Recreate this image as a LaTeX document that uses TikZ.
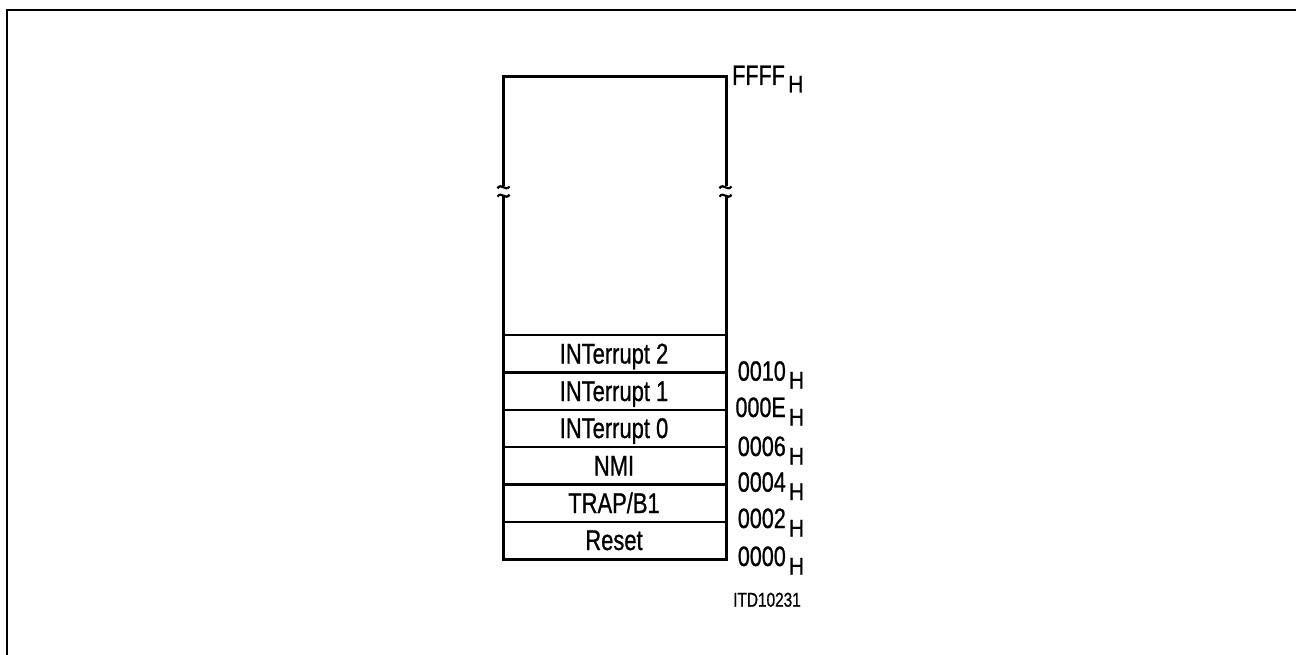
\documentclass[tikz,border=0pt]{standalone}
\usepackage{fontspec}
\setmainfont[FakeStretch=0.77,FakeBold=0.8]{Liberation Sans}
\newfontfamily\subfont[FakeStretch=0.88,FakeBold=0.7]{Liberation Sans}
\begin{document}
\begin{tikzpicture}[x=1pt,y=-1pt,
  frameline/.style={line width=2pt},
  boxline/.style={line width=3pt, line join=miter},
  divline/.style={line width=2.8pt},
  tildeline/.style={line width=2.2pt},
  rowtext/.style={font=\fontsize{28.5}{28.5}\selectfont, anchor=base, inner sep=0pt},
  addr/.style={font=\fontsize{28}{28}\selectfont, anchor=base east, inner sep=0pt},
  hsub/.style={font=\subfont\fontsize{24}{24}\selectfont, anchor=base west, inner sep=0pt},
  itd/.style={font=\fontsize{20}{20}\selectfont, anchor=base, inner sep=0pt}]
\useasboundingbox (0,0) rectangle (1296,655);
% frame
\draw[frameline] (7,655) -- (7,10.3) -- (1296,10.3);
% outer box
\coordinate (tl) at (503.5,77);
\coordinate (tr) at (726,77);
\coordinate (bl) at (503.5,559);
\coordinate (br) at (726,559);
\coordinate (lbu) at (503.5,186.5);
\coordinate (rbu) at (726,186.5);
\coordinate (lbl) at (503.5,195.5);
\coordinate (rbl) at (726,195.5);
\draw[boxline] (lbu) -- (tl) -- (tr) -- (rbu);
\draw[boxline] (lbl) -- (bl) -- (br) -- (rbl);
% break marks
\foreach \bx/\by in {503.5/187.3, 503.5/195.7, 725.5/187.3, 725.5/195.7}{
  \draw[tildeline] (\bx-6,\by+1) .. controls (\bx-2,\by-5) and (\bx+2,\by+5) .. (\bx+6,\by-1);
}
% dividers
\foreach \dy in {335,372.5,410,447,484.5,522}{
  \draw[divline] (503.5,\dy) -- (726,\dy);
}
% row labels
\node[rowtext] (int2)  at (614,363.5) {INTerrupt 2};
\node[rowtext] (int1)  at (614,401) {INTerrupt 1};
\node[rowtext] (int0)  at (614,438) {INTerrupt 0};
\node[rowtext] (nmi)   at (614,475.5) {NMI};
\node[rowtext] (trap)  at (614,513) {TRAP/B1};
\node[rowtext] (reset) at (614,550) {Reset};
% addresses
\node[addr, anchor=base west] (affff) at (732,85) {FFFF};
\node[hsub] (hffff) at (788,92.5) {H};
\node[addr] (a0010) at (786,380.7) {0010};
\node[hsub] (h0010) at (788.6,388.5) {H};
\node[addr] (a000e) at (786,417) {000E};
\node[hsub] (h000e) at (788.6,425.5) {H};
\node[addr] (a0006) at (786,456) {0006};
\node[hsub] (h0006) at (788.6,464.5) {H};
\node[addr] (a0004) at (786,491.7) {0004};
\node[hsub] (h0004) at (788.6,500) {H};
\node[addr] (a0002) at (786,528) {0002};
\node[hsub] (h0002) at (788.6,536.5) {H};
\node[addr] (a0000) at (786,566) {0000};
\node[hsub] (h0000) at (788.6,574.5) {H};
% figure id
\node[itd] (itd) at (767,606.7) {ITD10231};
\end{tikzpicture}
\end{document}
